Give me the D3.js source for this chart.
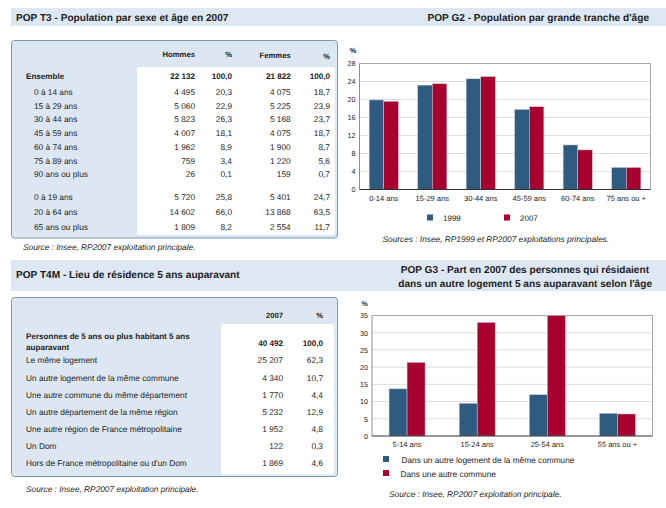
<!DOCTYPE html>
<html><head><meta charset="utf-8">
<script src="https://cdn.jsdelivr.net/npm/d3@7"></script>
<style>
html,body{margin:0;padding:0;background:#fff}
svg{display:block}
text{font-family:"Liberation Sans",Arial,sans-serif;fill:#1c1c1c;text-rendering:geometricPrecision}
.axis path,.axis line{display:none}
</style></head><body><div id="c"></div>
<script>
const t3Labels=["Ensemble","0 à 14 ans","15 à 29 ans","30 à 44 ans","45 à 59 ans","60 à 74 ans","75 à 89 ans","90 ans ou plus","0 à 19 ans","20 à 64 ans","65 ans ou plus"];
const t3Hommes=["22 132","4 495","5 060","5 823","4 007","1 962","759","26","5 720","14 602","1 809"];
const t3HommesPct=["100,0","20,3","22,9","26,3","18,1","8,9","3,4","0,1","25,8","66,0","8,2"];
const t3Femmes=["21 822","4 075","5 225","5 168","4 075","1 900","1 220","159","5 401","13 868","2 554"];
const t3FemmesPct=["100,0","18,7","23,9","23,7","18,7","8,7","5,6","0,7","24,7","63,5","11,7"];
const t3RowY=[75.7,91.7,105.7,119,133,146.7,160.7,174,197,212,227];

const t4Labels=["Le même logement","Un autre logement de la même commune","Une autre commune du même département","Un autre département de la même région","Une autre région de France métropolitaine","Un Dom","Hors de France métropolitaine ou d'un Dom"];
const t4Values=["25 207","4 340","1 770","5 232","1 952","122","1 869"];
const t4Pct=["62,3","10,7","4,4","12,9","4,8","0,3","4,6"];
const t4RowY=[360.5,377.7,395,412,429,446,463];

const g2Cats=["0-14 ans","15-29 ans","30-44 ans","45-59 ans","60-74 ans","75 ans ou +"];
const g2Series=["1999","2007"];
const g2V1999=[19.9,23.2,24.6,17.8,9.9,4.9];
const g2V2007=[19.6,23.5,25.1,18.4,8.8,4.9];
const g2Ticks=[0,4,8,12,16,20,24,28];

const g3Cats=["5-14 ans","15-24 ans","25-54 ans","55 ans ou +"];
const g3Series=["Dans un autre logement de la même commune","Dans une autre commune"];
const g3V1=[13.7,9.5,12,6.6];
const g3V2=[21.4,33,35,6.4];
const g3Ticks=[0,5,10,15,20,25,30,35];

const BLUE="#2e5b7f",RED="#a8002e",BAND="#dde8f4",PANEL="#dce7f3",EDGE="#7f97ad";
const svg=d3.select("#c").append("svg").attr("width",666).attr("height",508);

function txt(x,y,s,o={}){
  return svg.append("text").attr("x",x).attr("y",y).attr("dy","0.35em")
    .attr("font-size",o.size||(o.bold?8.1:8.3)).attr("font-weight",o.bold?"bold":"normal")
    .attr("font-style",o.italic?"italic":"normal")
    .attr("text-anchor",o.anchor||"start").text(s);
}
// header bands
svg.append("rect").attr("x",11).attr("y",8).attr("width",655).attr("height",18).attr("fill",BAND);
svg.append("rect").attr("x",11).attr("y",260).attr("width",655).attr("height",31).attr("fill",BAND);
txt(16,17.5,"POP T3 - Population par sexe et âge en 2007",{size:10.1,bold:true});
txt(649,17.5,"POP G2 - Population par grande tranche d'âge",{size:10.1,bold:true,anchor:"end"});
txt(16,274.5,"POP T4M - Lieu de résidence 5 ans auparavant",{size:10.1,bold:true});
txt(649,269.5,"POP G3 - Part en 2007 des personnes qui résidaient",{size:10.1,bold:true,anchor:"end"});
txt(652,283.5,"dans un autre logement 5 ans auparavant selon l'âge",{size:10.1,bold:true,anchor:"end"});

// panels
function panel(x,y,w,h,wx,wy,ww,wh){
  svg.append("rect").attr("x",x).attr("y",y).attr("width",w).attr("height",h).attr("rx",3).attr("fill",PANEL).attr("stroke",EDGE).attr("stroke-width",1);
  svg.append("rect").attr("x",wx).attr("y",wy).attr("width",ww).attr("height",wh).attr("rx",2).attr("fill","#fff");
}
panel(11.5,40.5,326,197.5,137,67,198,168);
panel(11.5,297.5,326,179,221,324,113,150.5);

// T3
txt(195,54.7,"Hommes",{size:7.7,bold:true,anchor:"end"});
txt(232,54.7,"%",{size:7.7,bold:true,anchor:"end"});
txt(290.7,55.7,"Femmes",{size:7.7,bold:true,anchor:"end"});
txt(330,56.5,"%",{size:7.7,bold:true,anchor:"end"});
t3Labels.forEach((l,i)=>{
  const b=i===0,y=t3RowY[i];
  txt(b?26:34,y,l,{bold:b});
  txt(195,y,t3Hommes[i],{bold:b,anchor:"end"});
  txt(232,y,t3HommesPct[i],{bold:b,anchor:"end"});
  txt(290.7,y,t3Femmes[i],{bold:b,anchor:"end"});
  txt(330,y,t3FemmesPct[i],{bold:b,anchor:"end"});
});
txt(23,247,"Source : Insee, RP2007 exploitation principale.",{italic:true});

// T4M
txt(283,315,"2007",{size:7.7,bold:true,anchor:"end"});
txt(323,315,"%",{size:7.7,bold:true,anchor:"end"});
txt(26,335.7,"Personnes de 5 ans ou plus habitant 5 ans",{bold:true});
txt(26,346.7,"auparavant",{bold:true});
txt(283,342.7,"40 492",{bold:true,anchor:"end"});
txt(323,342.7,"100,0",{bold:true,anchor:"end"});
t4Labels.forEach((l,i)=>{
  const y=t4RowY[i];
  txt(26,y,l);
  txt(283,y,t4Values[i],{anchor:"end"});
  txt(323,y,t4Pct[i],{anchor:"end"});
});
txt(26,489,"Source : Insee, RP2007 exploitation principale.",{italic:true});

// bar charts
function chart(c){
  const x=d3.scaleBand().domain(c.cats).range([c.l,c.r]);
  const y=d3.scaleLinear().domain([0,c.max]).range([c.b,c.t]);
  const g=svg.append("g");
  g.selectAll("line.grid").data(c.ticks.slice(1,-1)).join("line")
    .attr("x1",c.l).attr("x2",c.r).attr("y1",d=>y(d)).attr("y2",d=>y(d))
    .attr("stroke","#dddddd").attr("stroke-width",1);
  g.append("path").attr("d",`M${c.l},${c.t}H${c.r}V${c.b}`).attr("fill","none").attr("stroke","#a9a9a9").attr("stroke-width",1);
  g.append("path").attr("d",`M${c.l},${c.t}V${c.b}`).attr("fill","none").attr("stroke","#8f8f8f").attr("stroke-width",1);
  [[c.v1,BLUE,-1],[c.v2,RED,0]].forEach(([vals,col,off])=>{
    g.selectAll(null).data(vals).join("rect")
      .attr("x",(d,i)=>x(c.cats[i])+x.bandwidth()/2+off*c.bw)
      .attr("width",c.bw).attr("y",d=>y(d)).attr("height",d=>c.b-y(d))
      .attr("fill",col).attr("stroke","#c9d2da").attr("stroke-width",0.5);
  });
  g.append("line").attr("x1",c.l).attr("x2",c.r).attr("y1",c.b).attr("y2",c.b).attr("stroke","#333").attr("stroke-width",1);
  const ya=svg.append("g").attr("class","axis").attr("transform",`translate(${c.l-1},0)`)
    .call(d3.axisLeft(y).tickValues(c.ticks).tickSize(0).tickPadding(3));
  ya.selectAll("text").attr("font-size",7.2);
  const xa=svg.append("g").attr("class","axis").attr("transform",`translate(0,${c.b+3})`)
    .call(d3.axisBottom(x).tickSize(0).tickPadding(3));
  xa.selectAll("text").attr("font-size",7.5);
  ya.attr("font-family",null);xa.attr("font-family",null);
}
chart({cats:g2Cats,v1:g2V1999,v2:g2V2007,ticks:g2Ticks,max:28,l:359.5,r:650.5,t:63.5,b:189.5,bw:14.6});
chart({cats:g3Cats,v1:g3V1,v2:g3V2,ticks:g3Ticks,max:35,l:372,r:652.5,t:315.5,b:436,bw:18});

// legends and sources
txt(353,50.5,"%",{size:7.5,bold:true,anchor:"middle"});
svg.append("rect").attr("x",427).attr("y",214.5).attr("width",6).attr("height",6).attr("fill",BLUE);
txt(443,218,g2Series[0],{size:8});
svg.append("rect").attr("x",504).attr("y",214.5).attr("width",6).attr("height",6).attr("fill",RED);
txt(520,218,g2Series[1],{size:8});
txt(382.5,239,"Sources : Insee, RP1999 et RP2007 exploitations principales.",{italic:true});

txt(364.5,304,"%",{size:7,bold:true,anchor:"middle"});
svg.append("rect").attr("x",383).attr("y",456).attr("width",6).attr("height",6).attr("fill",BLUE);
txt(401.5,459.7,g3Series[0]);
svg.append("rect").attr("x",383).attr("y",470).attr("width",6).attr("height",6).attr("fill",RED);
txt(400.5,473.7,g3Series[1]);
txt(389,494,"Source : Insee, RP2007 exploitation principale.",{italic:true});
</script></body></html>
